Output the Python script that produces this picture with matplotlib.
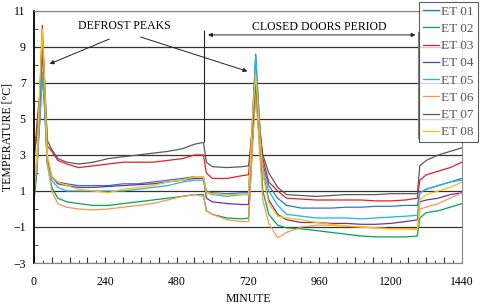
import matplotlib
matplotlib.use("Agg")
import matplotlib.pyplot as plt
from matplotlib.ticker import MultipleLocator

plt.rcParams['font.family'] = ['Liberation Serif', 'DejaVu Serif']

# sample times (minutes) and temperatures
minutes = [0, 10, 20, 28, 36, 45, 60, 80, 110, 150, 200, 250, 300, 350, 400,
           450, 500, 540, 570, 580, 600, 650, 700, 722, 735, 746, 758, 770,
           790, 820, 850, 900, 950, 1000, 1050, 1100, 1150, 1200, 1250, 1290,
           1298, 1320, 1360, 1400, 1440]

et01 = [1.5, 2.5, 5.0, 7.5, 5.5, 2.5, 1.8, 1.5, 1.4, 1.3, 1.3, 1.3, 1.4, 1.4, 1.5,
        1.6, 1.7, 1.8, 1.8, 1.0, 0.9, 0.85, 0.9, 0.9, 5.0, 8.6, 5.0, 2.5,
        1.3, 0.6, 0.2, 0.05, 0.05, 0.05, 0.1, 0.1, 0.15, 0.15, 0.2, 0.2,
        0.9, 1.1, 1.3, 1.5, 1.7]
et02 = [0.5, 2.0, 6.0, 9.3, 6.0, 2.5, 1.2, 0.6, 0.4, 0.3, 0.2, 0.2, 0.3, 0.4, 0.5,
        0.6, 0.7, 0.8, 0.8, -0.1, -0.3, -0.5, -0.55, -0.5, 3.5, 6.5, 4.0, 1.0,
        -0.3, -0.9, -1.05, -1.1, -1.2, -1.3, -1.4, -1.5, -1.55, -1.55, -1.55, -1.5,
        -0.5, -0.2, -0.1, 0.1, 0.3]
et03 = [2.5, 4.8, 6.5, 10.2, 7.0, 3.5, 3.2, 2.7, 2.5, 2.3, 2.4, 2.5, 2.6, 2.6, 2.6,
        2.7, 2.8, 3.0, 3.0, 2.0, 1.7, 1.7, 1.85, 1.9, 4.5, 7.0, 4.5, 2.8,
        1.5, 1.0, 0.6, 0.55, 0.5, 0.5, 0.5, 0.5, 0.45, 0.45, 0.5, 0.6,
        1.6, 1.9, 2.1, 2.3, 2.6]
et04 = [1.2, 2.5, 6.0, 9.0, 6.0, 2.8, 1.8, 1.4, 1.3, 1.2, 1.2, 1.25, 1.3, 1.35, 1.4,
        1.5, 1.6, 1.7, 1.7, 0.6, 0.4, 0.3, 0.25, 0.25, 4.0, 7.0, 4.5, 2.0,
        0.5, -0.3, -0.6, -0.75, -0.75, -0.8, -0.8, -0.85, -0.85, -0.8, -0.7, -0.6,
        0.4, 0.5, 0.6, 0.8, 0.9]
et05 = [1.0, 2.3, 5.0, 7.6, 5.5, 2.5, 1.6, 1.2, 1.0, 1.0, 1.0, 1.0, 1.0, 1.1, 1.2,
        1.3, 1.5, 1.6, 1.6, 0.9, 0.8, 0.7, 0.8, 0.8, 5.0, 8.5, 5.0, 2.2,
        1.0, 0.2, -0.3, -0.4, -0.5, -0.5, -0.5, -0.55, -0.5, -0.45, -0.4, -0.35,
        0.9, 1.1, 1.3, 1.5, 1.6]
et06 = [1.0, 2.5, 6.5, 9.7, 6.5, 2.5, 1.0, 0.3, 0.1, 0.0, -0.05, 0.0, 0.1, 0.2, 0.3,
        0.5, 0.7, 0.8, 0.7, -0.1, -0.3, -0.6, -0.7, -0.7, 3.5, 6.5, 3.5, 0.5,
        -0.8, -1.6, -1.3, -1.0, -0.9, -0.9, -0.95, -1.0, -1.05, -1.1, -1.1, -1.1,
        0.0, 0.1, 0.3, 0.6, 0.9]
et07 = [3.0, 4.0, 6.5, 9.5, 7.0, 3.8, 3.3, 2.8, 2.6, 2.5, 2.6, 2.8, 2.9, 3.0, 3.1,
        3.2, 3.35, 3.6, 3.7, 2.6, 2.35, 2.3, 2.35, 2.4, 4.5, 7.0, 4.5, 3.0,
        2.0, 1.2, 0.8, 0.75, 0.7, 0.75, 0.8, 0.8, 0.8, 0.85, 0.85, 0.85,
        2.4, 2.7, 3.0, 3.2, 3.4]
et08 = [1.5, 3.0, 7.0, 10.0, 7.0, 3.0, 1.8, 1.5, 1.3, 1.1, 1.0, 0.9, 1.1, 1.2, 1.3,
        1.5, 1.6, 1.8, 1.8, 0.9, 0.85, 0.8, 0.8, 0.8, 5.0, 7.5, 4.5, 2.0,
        0.3, -0.4, -0.5, -0.6, -0.75, -0.85, -0.95, -1.0, -1.05, -1.1, -1.1, -1.15,
        0.5, 0.8, 1.0, 1.2, 1.5]

labels = ['ET 01', 'ET 02', 'ET 03', 'ET 04', 'ET 05', 'ET 06', 'ET 07', 'ET 08']
series = [et01, et02, et03, et04, et05, et06, et07, et08]
colors = ['#2e75c9', '#00a651', '#ed1c24', '#7030a0', '#1fb4f0',
          '#f4975a', '#5a5a5a', '#ffc000']

fig = plt.figure(figsize=(4.8, 3.05), dpi=100)
ax = fig.add_axes([0.0708, 0.1377, 0.8917, 0.8263])

for ys, c, lab in zip(series, colors, labels):
    ax.plot(minutes, ys, color=c, lw=0.9, label=lab)

ax.set_xlim(0, 1440)
ax.set_ylim(-3, 11)
ax.set_xticks(range(0, 1441, 240))
ax.set_yticks(range(-3, 12, 2))
ax.xaxis.set_minor_locator(MultipleLocator(30))
ax.yaxis.set_minor_locator(MultipleLocator(1))
ax.tick_params(axis='y', which='major', length=0, labelsize=8.5, pad=6)
ax.tick_params(axis='x', which='major', length=0, labelsize=8.5, pad=9)
ax.tick_params(axis='x', which='minor', direction='in', length=2, color='#333333')
ax.tick_params(axis='y', which='minor', direction='in', length=3, color='#333333')

# longer ticks every hour
sec = ax.secondary_xaxis('bottom')
sec.set_xticks(range(0, 1441, 60))
sec.tick_params(direction='in', length=4, labelbottom=False, color='#333333')
sec.spines['bottom'].set_visible(False)

ax.grid(axis='y', color='#333333', lw=0.9)
ax.set_axisbelow(True)
ax.spines['left'].set_linewidth(1.3)
ax.spines['left'].set_color('black')
for s in ['top', 'right', 'bottom']:
    ax.spines[s].set_color('#888888')
    ax.spines[s].set_linewidth(0.8)

ax.set_xlabel('MINUTE', fontsize=8.5, labelpad=4)
ax.set_ylabel('TEMPERATURE [°C]', fontsize=8.5)
ax.yaxis.set_label_coords(-0.049, 0.5)

# annotations
ax.text(303, 10.17, 'DEFROST PEAKS', ha='center', va='center', fontsize=8.5)
arrow = dict(arrowstyle='-|>', color='#222222', lw=0.7, mutation_scale=6)
ax.annotate('', xy=(44, 8.0), xytext=(262, 9.5), arrowprops=arrow)
ax.annotate('', xy=(727, 7.6), xytext=(350, 9.6), arrowprops=arrow)

ax.text(959, 10.1, 'CLOSED DOORS PERIOD', ha='center', va='center', fontsize=8.5)
ax.vlines(573, 3.7, 9.95, color='#222222', lw=0.8)
ax.vlines(1296, 3.9, 9.85, color='#888888', lw=1.6)
ax.annotate('', xy=(576, 9.67), xytext=(1293, 9.67),
            arrowprops=dict(arrowstyle='<|-|>', color='#222222', lw=0.7,
                            mutation_scale=6))

leg = fig.legend(loc='upper right', bbox_to_anchor=(0.995, 0.995), fontsize=9.5,
                 frameon=True, fancybox=False, handlelength=1.2,
                 handletextpad=0.15, labelspacing=0.38, borderpad=0.3,
                 borderaxespad=0)
leg.get_frame().set_edgecolor('#333333')
leg.get_frame().set_linewidth(0.8)
for t in leg.get_texts():
    t.set_color('#595959')

fig.savefig('out.png', dpi=100)
